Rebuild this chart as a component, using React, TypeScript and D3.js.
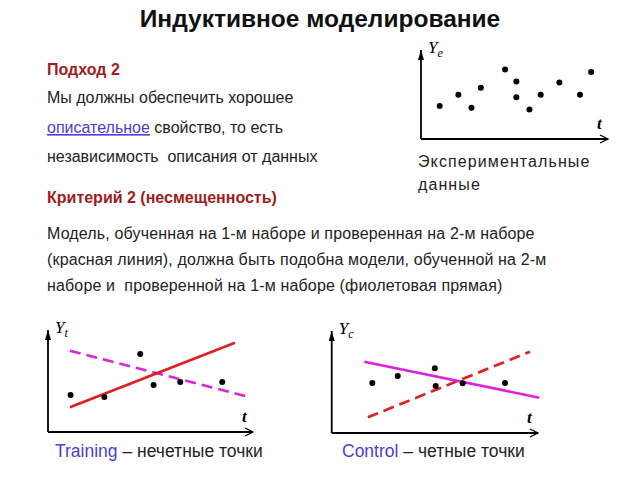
import React from "react";
import * as d3 from "d3";

// Top-right chart: experimental data
const expT = [10, 20, 27, 32, 45, 51, 51, 58, 64, 74, 85, 91];
const expY = [38, 51, 36, 59, 80, 66, 48, 34, 51, 65, 51, 77];

// Bottom-left chart: training points and lines
const trainT = [11, 27.5, 45, 51.5, 64.5, 85];
const trainY = [37, 35, 78, 47, 50, 50];
const trainRedLine = [[10.7, 24.7], [91.2, 89.3]];
const trainMagentaLine = [[10.7, 81.3], [96.4, 36]];

// Bottom-right chart: control points and lines
const ctrlT = [19.7, 32, 50, 50.4, 63.5, 84];
const ctrlY = [50, 57, 64.7, 47, 49.7, 50];
const ctrlMagentaLine = [[15.8, 71.3], [100.6, 35.3]];
const ctrlRedLine = [[17.5, 15.7], [96.1, 81.3]];

const title = "Индуктивное моделирование";
const heading1 = "Подход 2";
const heading2 = "Критерий 2 (несмещенность)";
const para1 = ["Мы должны обеспечить хорошее", "свойство, то есть", "независимость  описания от данных"];
const para1Link = "описательное";
const para2 = [
  "Модель, обученная на 1-м наборе и проверенная на 2-м наборе",
  "(красная линия), должна быть подобна модели, обученной на 2-м",
  "наборе и  проверенной на 1-м наборе (фиолетовая прямая)",
];
const expLabel = ["Экспериментальные", "данные"];

const RED = "#dc1f1f";
const MAGENTA = "#dd22dd";
const DARKRED = "#9e1c1c";
const TEXT = "#222";
const BLUE = "#4a3fd0";

type Frame = { x0: number; x1: number; y0: number; y1: number };

function Axes({ f, sub }: { f: Frame; sub: string }) {
  return (
    <g>
      <line x1={f.x0} y1={f.y0} x2={f.x0} y2={f.y1 - 2} stroke="#000" strokeWidth={1.8} />
      <path d={`M${f.x0 - 3},${f.y1 + 8} L${f.x0},${f.y1 - 2} L${f.x0 + 3},${f.y1 + 8} Z`} fill="#000" />
      <line x1={f.x0} y1={f.y0} x2={f.x1} y2={f.y0} stroke="#000" strokeWidth={1.8} />
      <path d={`M${f.x1 - 8},${f.y0 - 4} L${f.x1},${f.y0} L${f.x1 - 8},${f.y0 + 4}`} fill="none" stroke="#000" strokeWidth={1.3} />
      <text x={f.x0 + 7} y={f.y1 + 1} fontFamily="Liberation Serif" fontStyle="italic" fontSize={17} fill="#000">
        Y
        <tspan fontSize={12} dy={4}>{sub}</tspan>
      </text>
      <text x={f.x1 - 11} y={f.y0 - 10} fontFamily="Liberation Serif" fontStyle="italic" fontWeight="bold" fontSize={17} fill="#000">
        t
      </text>
    </g>
  );
}

function Chart({ f, ts, ys, lines, sub }: { f: Frame; ts: number[]; ys: number[]; lines: { pts: number[][]; color: string; dash?: string }[]; sub: string }) {
  const x = d3.scaleLinear().domain([0, 100]).range([f.x0, f.x1]);
  const y = d3.scaleLinear().domain([0, 100]).range([f.y0, f.y1]);
  const lineGen = d3.line<number[]>().x((d) => x(d[0])).y((d) => y(d[1]));
  return (
    <g>
      <Axes f={f} sub={sub} />
      {lines.map((l, i) => (
        <path key={i} d={lineGen(l.pts) || ""} stroke={l.color} strokeWidth={2.6} fill="none" strokeDasharray={l.dash} />
      ))}
      {ts.map((t, i) => (
        <circle key={i} cx={x(t)} cy={y(ys[i])} r={3} fill="#000" />
      ))}
    </g>
  );
}

export default function App() {
  const font = "Liberation Sans, Arial, sans-serif";
  const fTop: Frame = { x0: 421, x1: 608, y0: 139, y1: 52 };
  const fL: Frame = { x0: 48, x1: 253, y0: 432, y1: 332 };
  const fR: Frame = { x0: 331.7, x1: 538, y0: 433, y1: 333 };
  return (
    <svg width={640} height={480} style={{ position: "absolute", left: 0, top: 0, background: "#fff" }} fontFamily={font}>
      <rect width={640} height={480} fill="#fff" />
      <text x={320} y={27} textAnchor="middle" fontSize={24.5} fontWeight="bold" fill="#111">{title}</text>

      <text x={47} y={75} fontSize={16} fontWeight="bold" fill={DARKRED}>{heading1}</text>
      <text x={47} y={103} fontSize={16} fill={TEXT}>{para1[0]}</text>
      <text x={47} y={133} fontSize={16} fill={TEXT}>
        <tspan fill={BLUE} textDecoration="underline">{para1Link}</tspan>
        <tspan> {para1[1]}</tspan>
      </text>
      <text x={47} y={162} fontSize={16} fill={TEXT} style={{ whiteSpace: "pre" }}>{para1[2]}</text>

      <text x={47} y={203} fontSize={16} fontWeight="bold" fill={DARKRED}>{heading2}</text>
      {para2.map((s, i) => (
        <text key={i} x={47} y={239 + i * 26} fontSize={16} letterSpacing={0.15} fill={TEXT} style={{ whiteSpace: "pre" }}>{s}</text>
      ))}

      <text x={418} y={167} fontSize={16} letterSpacing={1.1} fill={TEXT}>{expLabel[0]}</text>
      <text x={418} y={190} fontSize={16} letterSpacing={1.1} fill={TEXT}>{expLabel[1]}</text>

      <Chart f={fTop} ts={expT.map((v) => v)} ys={expY.map((v) => v)} lines={[]} sub="e" />
      <Chart
        f={fL}
        ts={trainT}
        ys={trainY}
        sub="t"
        lines={[
          { pts: trainMagentaLine, color: MAGENTA, dash: "11,6" },
          { pts: trainRedLine, color: RED },
        ]}
      />
      <Chart
        f={fR}
        ts={ctrlT}
        ys={ctrlY}
        sub="c"
        lines={[
          { pts: ctrlRedLine, color: RED, dash: "11,6" },
          { pts: ctrlMagentaLine, color: MAGENTA },
        ]}
      />

      <text x={55} y={457} fontSize={17.5} fill={TEXT}>
        <tspan fill={BLUE}>Training</tspan>
        <tspan> – нечетные точки</tspan>
      </text>
      <text x={342} y={457} fontSize={17.5} fill={TEXT}>
        <tspan fill={BLUE}>Control</tspan>
        <tspan> – четные точки</tspan>
      </text>
    </svg>
  );
}
